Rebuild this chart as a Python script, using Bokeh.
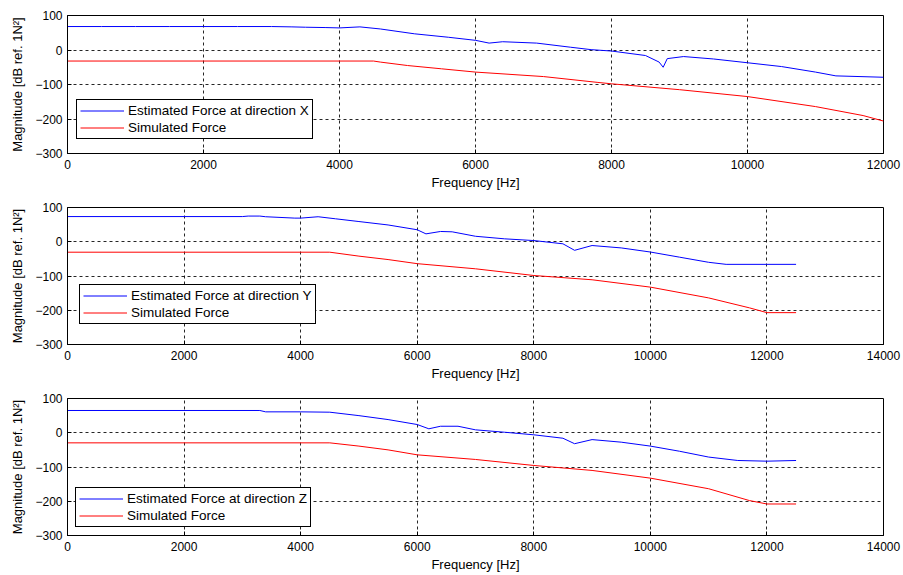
from bokeh.plotting import figure
from bokeh.layouts import column
from bokeh.models import Range1d, FixedTicker, Legend, LegendItem
from bokeh.embed import file_html
from bokeh.resources import INLINE

# ---------------- data ----------------
x_est_f = [0, 500, 1000, 1500, 2000, 2500, 3000, 3300, 3500, 3800, 4000, 4300, 4600,
           5100, 5600, 6000, 6200, 6400, 6900, 7400, 7700, 8000, 8500, 8700, 8760,
           8820, 9060, 9500, 10000, 10500, 11000, 11300, 12000]
x_est_v = [68, 68, 68, 68, 68, 68, 68, 67, 66, 65, 64, 67, 61,
           47, 37, 28, 20, 24, 20, 8, 1, -3, -16, -35, -50,
           -25, -19, -26, -37, -48, -64, -75, -79]
x_sim_f = [0, 4500, 4600, 5000, 5500, 6000, 7000, 7800, 8000, 9000, 10000, 11000, 11700, 12000]
x_sim_v = [-32, -32, -35, -45, -54.5, -64, -77, -94, -98, -115, -135, -164, -190, -206]

y_est_f = [0, 3000, 3100, 3300, 3400, 3900, 4000, 4300, 4600, 5000, 5500, 6000, 6150,
           6400, 6600, 7000, 7500, 8000, 8500, 8700, 9000, 9500, 10000, 10500, 11000,
           11300, 12000, 12500]
y_est_v = [73.5, 73.5, 75, 75, 73, 69, 69, 73, 67, 59, 49, 35, 23,
           30, 29, 16, 8.5, 3.5, -6, -25, -11, -18, -30, -45, -60,
           -66, -66, -66]
y_sim_f = [0, 4500, 5000, 5500, 6000, 7000, 8000, 9000, 10000, 11000, 11700, 12000, 12500]
y_sim_v = [-30.5, -30.5, -42, -52, -64, -79, -98.5, -111, -132.5, -164, -193, -207, -207]

z_est_f = [0, 3300, 3400, 4000, 4500, 5000, 5500, 6000, 6200, 6400, 6700, 7000, 7500,
           8000, 8500, 8700, 9000, 9500, 10000, 10500, 11000, 11500, 12000, 12500]
z_est_v = [65, 65, 61, 61, 60, 50, 38.5, 24, 11.5, 19, 19, 8.5, 1.5,
           -6, -16, -32, -20, -27.5, -39, -54, -71, -81, -83, -81]
z_sim_f = [0, 4500, 5000, 5500, 6000, 7000, 8000, 9000, 10000, 11000, 11700, 12000, 12500]
z_sim_v = [-29.5, -29.5, -39, -50, -64.5, -78, -95.5, -110, -132.5, -163.5, -198, -208, -208]

y_ticks = [-300, -200, -100, 0, 100]
x_ticks_1 = [0, 2000, 4000, 6000, 8000, 10000, 12000]
x_ticks_2 = [0, 2000, 4000, 6000, 8000, 10000, 12000, 14000]

FONT = "Liberation Sans"


def make_panel(fx, vx, fs, vs, direction, xmax, xticks, height, top, bottom, leg_loc):
    p = figure(width=903, height=height, output_backend="svg", toolbar_location=None,
               x_range=Range1d(0, xmax), y_range=Range1d(-300, 100),
               min_border_left=67, min_border_right=20,
               min_border_top=top, min_border_bottom=bottom)
    p.background_fill_color = "white"
    p.border_fill_color = "white"
    p.outline_line_color = "black"
    p.outline_line_width = 1

    for ax in (p.xaxis[0], p.yaxis[0]):
        ax.axis_line_color = "black"
        ax.major_tick_in = 4
        ax.major_tick_out = 0
        ax.minor_tick_line_color = None
        ax.major_tick_line_color = "black"
        ax.major_label_text_font = FONT
        ax.major_label_text_font_size = "12px"
        ax.major_label_text_color = "black"
        ax.axis_label_text_font = FONT
        ax.axis_label_text_font_size = "13px"
        ax.axis_label_text_font_style = "normal"
        ax.axis_label_text_color = "black"
    p.xaxis.ticker = FixedTicker(ticks=xticks)
    p.yaxis.ticker = FixedTicker(ticks=y_ticks)
    p.xaxis.axis_label = "Frequency [Hz]"
    p.yaxis.axis_label = "Magnitude [dB ref. 1N²]"
    p.xaxis.major_label_standoff = 6
    p.xaxis.axis_label_standoff = 3
    p.yaxis.major_label_standoff = 5
    p.yaxis.axis_label_standoff = 7

    for g in (p.xgrid[0], p.ygrid[0]):
        g.grid_line_color = "black"
        g.grid_line_dash = "3 3"
        g.grid_line_width = 1
        g.grid_line_alpha = 0.85

    r_est = p.line(fx, vx, line_color="#0000ff", line_width=1)
    r_sim = p.line(fs, vs, line_color="#ff0000", line_width=1)

    leg = Legend(items=[LegendItem(label="Estimated Force at direction " + direction, renderers=[r_est]),
                        LegendItem(label="Simulated Force", renderers=[r_sim])],
                 location=leg_loc,
                 border_line_color="#000000", border_line_width=1, border_line_alpha=1,
                 background_fill_color="white", background_fill_alpha=1,
                 label_text_font=FONT, label_text_font_size="13.5px", label_text_color="black",
                 glyph_width=44, glyph_height=15, label_height=15,
                 spacing=2, padding=3, margin=0, label_standoff=4)
    p.add_layout(leg, "center")
    return p


p1 = make_panel(x_est_f, x_est_v, x_sim_f, x_sim_v, "X", 12000, x_ticks_1, 198, 15, 45, (9, 14))
p2 = make_panel(y_est_f, y_est_v, y_sim_f, y_sim_v, "Y", 14000, x_ticks_2, 191, 9, 45, (12, 20))
p3 = make_panel(z_est_f, z_est_v, z_sim_f, z_sim_v, "Z", 14000, x_ticks_2, 186, 9, 40, (8, 8))

layout = column(p1, p2, p3, spacing=0)
open("out.html", "w").write(file_html(layout, INLINE))
